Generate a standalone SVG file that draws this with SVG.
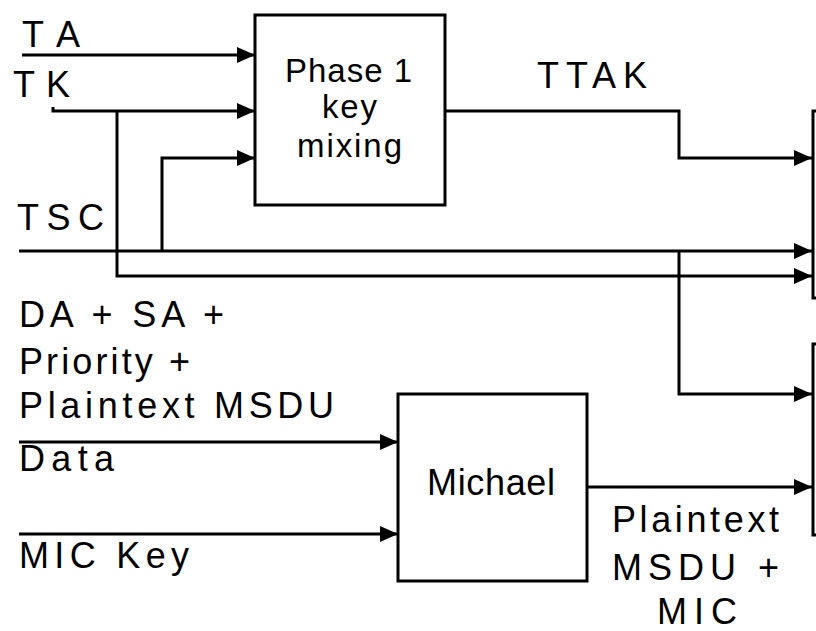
<svg xmlns="http://www.w3.org/2000/svg" width="816" height="631" viewBox="0 0 816 631">
<style>
.box{fill:#fff;stroke:#000;stroke-width:3}
.ln{fill:none;stroke:#000;stroke-width:3}
.arr{marker-end:url(#ah)}
text{font-family:"Liberation Sans",Arial,sans-serif;font-size:36px;fill:#000}
.bt{font-size:33px}
</style>
<defs>
<marker id="ah" markerUnits="userSpaceOnUse" markerWidth="18" markerHeight="16" refX="18" refY="8" orient="auto">
<path d="M0,0 L18,8 L0,16 z" fill="#000"/>
</marker>
</defs>
<rect width="816" height="631" fill="#fff"/>
<g id="connectors">
<path class="ln arr" d="M22,55 H255"/>
<path class="ln" d="M53,107 V111 H117"/>
<path class="ln arr" d="M117,111 H255"/>
<path class="ln arr" d="M117,111 V276 H812"/>
<path class="ln arr" d="M19,251 H812"/>
<path class="ln arr" d="M162,251 V158 H255"/>
<path class="ln arr" d="M445,111 H679 V158 H812"/>
<path class="ln arr" d="M679,251 V394 H812"/>
<path class="ln arr" d="M19,442 H398"/>
<path class="ln arr" d="M19,534 H398"/>
<path class="ln arr" d="M587,487 H812"/>
</g>
<g id="phase1">
<rect class="box" x="255" y="15" width="190" height="190"/>
<text class="bt" x="285" y="82" textLength="127" lengthAdjust="spacing">Phase 1</text>
<text class="bt" x="322" y="118" textLength="55" lengthAdjust="spacing">key</text>
<text class="bt" x="297" y="157" textLength="105" lengthAdjust="spacing">mixing</text>
</g>
<g id="michael">
<rect class="box" x="398" y="394" width="189" height="187"/>
<text x="427" y="495" textLength="128" lengthAdjust="spacing">Michael</text>
</g>
<g id="out1">
<rect class="box" x="813" y="111" width="20" height="187"/>
</g>
<g id="out2">
<rect class="box" x="813" y="344" width="20" height="191"/>
</g>
<g id="labels">
<text x="22" y="47" textLength="58" lengthAdjust="spacing">TA</text>
<text x="13" y="97" textLength="57" lengthAdjust="spacing">TK</text>
<text x="17" y="230" textLength="87" lengthAdjust="spacing">TSC</text>
<text x="537" y="88" textLength="110" lengthAdjust="spacing">TTAK</text>
<text x="19" y="327" textLength="205" lengthAdjust="spacing">DA + SA +</text>
<text x="19" y="374" textLength="171" lengthAdjust="spacing">Priority +</text>
<text x="19" y="418" textLength="315" lengthAdjust="spacing">Plaintext MSDU</text>
<text x="19" y="471" textLength="95" lengthAdjust="spacing">Data</text>
<text x="19" y="568" textLength="170" lengthAdjust="spacing">MIC Key</text>
<text x="612" y="532" textLength="167" lengthAdjust="spacing">Plaintext</text>
<text x="612" y="580" textLength="167" lengthAdjust="spacing">MSDU +</text>
<text x="657" y="624" textLength="80" lengthAdjust="spacing">MIC</text>
</g>
</svg>
